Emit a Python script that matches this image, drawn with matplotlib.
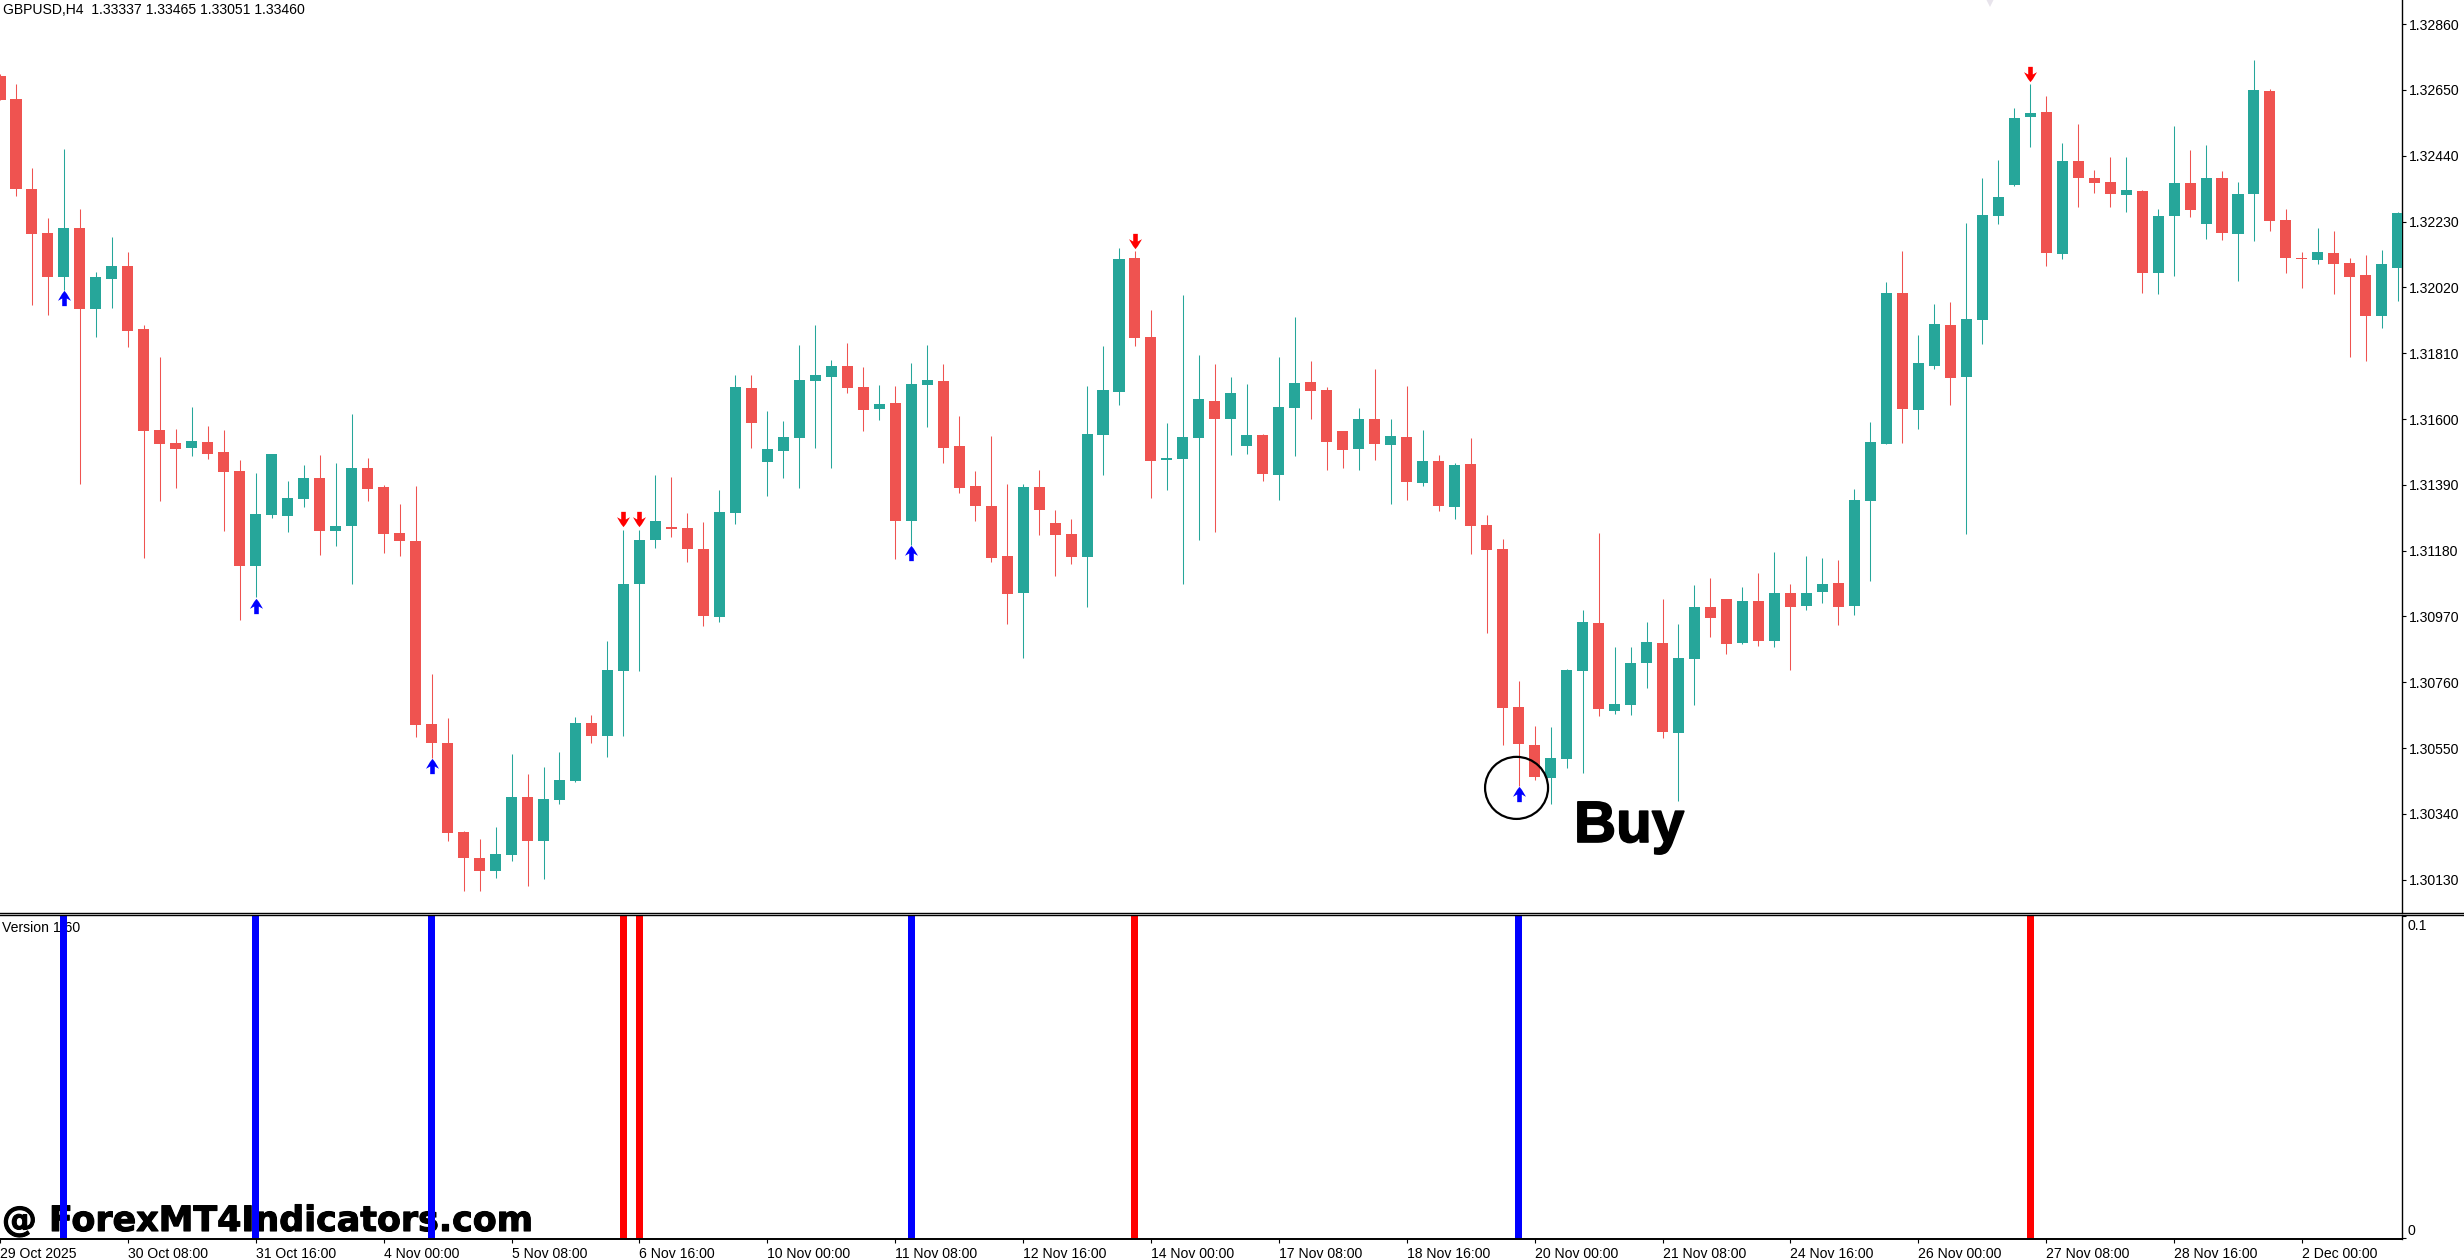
import matplotlib
matplotlib.use("Agg")
import matplotlib.pyplot as plt
import numpy as np
from matplotlib.patches import Ellipse
from matplotlib.path import Path
import matplotlib.patheffects as pe

# GBPUSD H4 candles, prices in points (price * 100000)
opens = [132694,
    132621,132334,132194,132053,132209,131951,132047,132088,131887,131565,
    131523,131507,131527,131495,131434,131131,131294,131290,131345,131412,
    131243,131259,131444,131383,131236,131211,130627,130566,130282,130199,
    130158,130209,130394,130253,130384,130445,130630,130588,130796,131073,
    131214,131255,131252,131185,130968,131300,131699,131463,131498,131539,
    131721,131734,131769,131702,131632,131651,131274,131708,131721,131514,
    131386,131322,131163,131045,131383,131268,131233,131160,131549,131686,
    132114,131862,131469,131472,131539,131657,131600,131514,131549,131421,
    131635,131718,131693,131562,131504,131600,131517,131543,131396,131466,
    131319,131456,131262,131185,130681,130560,130454,130515,130796,130949,
    130668,130687,130821,130885,130598,130834,131000,131026,130885,131019,
    130892,131045,131003,131048,131077,131003,131338,131520,132002,131629,
    131769,131900,131734,131916,132248,132347,132564,132580,132126,132423,
    132369,132356,132315,132328,132066,132248,132353,132222,132369,132190,
    132318,132647,132235,132114,132107,132130,132098,132059,131929,132082]
highs = [132701,
    132669,132401,132241,132462,132270,132069,132181,132133,131900,131798,
    131568,131638,131578,131565,131469,131428,131488,131402,131453,131485,
    131460,131616,131476,131389,131329,131386,130786,130646,130285,130260,
    130298,130531,130467,130489,130537,130649,130655,130892,131246,131246,
    131421,131415,131300,131271,131373,131740,131740,131625,131594,131836,
    131900,131788,131842,131766,131708,131705,131779,131836,131775,131610,
    131434,131546,131393,131393,131437,131310,131281,131705,131833,132146,
    132136,131948,131587,131996,131804,131775,131734,131712,131552,131798,
    131925,131785,131702,131562,131635,131760,131600,131705,131565,131485,
    131460,131539,131294,131217,130764,130620,130617,130802,130990,131236,
    130872,130872,130952,131026,130946,131070,131093,131026,131064,131109,
    131176,131073,131163,131156,131150,131377,131590,132037,132136,131868,
    131967,131973,132225,132369,132426,132592,132669,132631,132481,132541,
    132395,132436,132436,132331,132270,132535,132458,132474,132391,132356,
    132746,132653,132270,132133,132209,132200,132114,132123,132139,132261]
lows = [132618,
    132312,131964,131932,132012,131393,131862,131954,131830,131156,131338,
    131380,131482,131472,131243,130959,131032,131284,131239,131319,131166,
    131195,131073,131338,131172,131163,130585,130518,130253,130094,130094,
    130135,130190,130110,130132,130371,130442,130566,130521,130588,130796,
    131188,131223,131144,130939,130952,131265,131507,131354,131412,131380,
    131507,131444,131683,131562,131597,131153,131198,131574,131460,131364,
    131274,131144,130946,130837,131230,131099,131137,131000,131421,131645,
    131833,131348,131373,131073,131214,131239,131485,131488,131402,131341,
    131482,131600,131437,131444,131437,131469,131329,131341,131386,131306,
    131281,131169,130917,130560,130429,130448,130371,130486,130470,130652,
    130659,130655,130742,130582,130381,130687,130904,130850,130882,130876,
    130872,130799,130990,131013,130943,130975,131083,131520,131523,131568,
    131760,131645,131233,131839,132222,132343,132468,132088,132111,132276,
    132321,132276,132261,132002,131999,132056,132245,132174,132171,132040,
    132168,132200,132066,132018,132095,131999,131798,131785,131890,131976]
closes = [132618,
    132334,132190,132053,132209,131951,132053,132088,131881,131562,131520,
    131504,131530,131488,131431,131131,131297,131488,131348,131412,131243,
    131259,131444,131377,131233,131211,130624,130566,130279,130199,130158,
    130212,130394,130253,130387,130448,130630,130588,130799,131073,131214,
    131274,131249,131185,130971,131303,131702,131587,131504,131543,131724,
    131740,131769,131699,131629,131648,131274,131712,131724,131507,131380,
    131322,131156,131042,131383,131310,131230,131160,131552,131693,132111,
    131858,131466,131476,131543,131664,131600,131683,131549,131424,131638,
    131715,131689,131527,131501,131600,131520,131546,131399,131466,131322,
    131453,131259,131182,130678,130563,130458,130518,130799,130952,130675,
    130691,130821,130888,130601,130837,131000,130965,130882,131019,130892,
    131045,131000,131045,131073,131000,131341,131527,132002,131632,131779,
    131903,131731,131919,132251,132308,132560,132576,132130,132423,132369,
    132353,132318,132331,132066,132248,132353,132267,132369,132194,132318,
    132650,132232,132114,132111,132133,132095,132053,131929,132095,132257]

# bars (0 = the cut-off candle at the left edge) that carry a signal
buy_bars = [4, 16, 27, 57, 95]
buy_prices = [131986, 131003, 130493, 131172, 130403]
sell_bars = [39, 40, 71, 127]
sell_prices = [131281, 131281, 132168, 132701]
signal_level = 0.1

price_ticks = [1.32860, 1.32650, 1.32440, 1.32230, 1.32020, 1.31810, 1.31600,
               1.31390, 1.31180, 1.30970, 1.30760, 1.30550, 1.30340, 1.30130]
time_labels = ["29 Oct 2025", "30 Oct 08:00", "31 Oct 16:00", "4 Nov 00:00", "5 Nov 08:00",
               "6 Nov 16:00", "10 Nov 00:00", "11 Nov 08:00", "12 Nov 16:00", "14 Nov 00:00",
               "17 Nov 08:00", "18 Nov 16:00", "20 Nov 00:00", "21 Nov 08:00", "24 Nov 16:00",
               "26 Nov 00:00", "27 Nov 08:00", "28 Nov 16:00", "2 Dec 00:00"]
time_step = 8

UP = "#26a69a"
DOWN = "#ef5350"
W, H = 2464, 1260
LABEL_SIZE = 10.1


def arrow_marker(up=True):
    # same shape as the terminal's signal arrow, tip up or down
    verts = [(0, 1), (0.32, 0.6), (0.85, -0.3), (0.3, 0.0), (0.3, -1),
             (-0.3, -1), (-0.3, 0.0), (-0.85, -0.3), (-0.32, 0.6), (0, 1)]
    if not up:
        verts = [(x, -y) for x, y in verts]
    return Path(verts, closed=True)


def px_axes(left, top, right, bottom):
    return [left / W, 1 - bottom / H, (right - left) / W, (bottom - top) / H]


plt.rcParams["font.family"] = ["Liberation Sans", "DejaVu Sans"]
fig = plt.figure(figsize=(W / 100, H / 100), dpi=100, facecolor="white")
ax = fig.add_axes(px_axes(0, 0, 2402, 912))
sub = fig.add_axes(px_axes(0, 915, 2402, 1239), sharex=ax)

o = np.array(opens) / 1e5
h = np.array(highs) / 1e5
l = np.array(lows) / 1e5
c = np.array(closes) / 1e5
bars = np.arange(len(o))
colors = [UP if cl >= op else DOWN for op, cl in zip(o, c)]

# candles
ax.vlines(bars, l, h, colors=colors, linewidth=0.75, zorder=2)
ax.bar(bars, np.abs(c - o), bottom=np.minimum(o, c), width=0.69, color=colors, linewidth=0, zorder=3)

# signal arrows
ax.plot(buy_bars, np.array(buy_prices) / 1e5, ls="", marker=arrow_marker(True), ms=11, color="#0000ff", mew=0, zorder=4)
ax.plot(sell_bars, np.array(sell_prices) / 1e5, ls="", marker=arrow_marker(False), ms=11, color="#ff0000", mew=0, zorder=4)

# hand drawn circle round the buy signal
ax.add_patch(Ellipse((94.87, 1.30423), 3.94, 0.00198, fill=False, ec="black", lw=1.6, zorder=5))
# faint mark cut off by the top edge
ax.plot([124.5], [1.32934], ls="", marker="v", ms=9, color="#e8e4ec", mew=0, zorder=1)

ax.set_xlim(0.15, 150.26)
ax.set_ylim(1.30027, 1.32937)
ax.set_yticks(price_ticks)
ax.set_yticklabels([f"{t:.5f}" for t in price_ticks])
ax.yaxis.tick_right()
ax.tick_params(axis="y", length=2.6, width=0.8, pad=2.4, labelsize=LABEL_SIZE)
ax.tick_params(axis="x", bottom=False, labelbottom=False)
for s in ("top", "left", "bottom"):
    ax.spines[s].set_visible(False)
ax.spines["right"].set_linewidth(1.0)

# indicator window
sub.bar(buy_bars, [signal_level] * len(buy_bars), width=0.44, color="#0000ff", linewidth=0, zorder=3)
sub.bar(sell_bars, [signal_level] * len(sell_bars), width=0.44, color="#ff0000", linewidth=0, zorder=3)
sub.set_ylim(-0.00031, 0.10031)
sub.set_yticks([0, signal_level])
sub.set_yticklabels([])
sub.yaxis.tick_right()
sub.tick_params(axis="y", length=2.6, width=0.8)
# the terminal keeps these two labels just inside the window
sub.annotate("0.1", xy=(1, signal_level), xycoords=("axes fraction", "data"), xytext=(5, -10), textcoords="offset pixels",
             fontsize=LABEL_SIZE, va="center", ha="left", annotation_clip=False)
sub.annotate("0", xy=(1, 0), xycoords=("axes fraction", "data"), xytext=(5, 7), textcoords="offset pixels",
             fontsize=LABEL_SIZE, va="center", ha="left", annotation_clip=False)
sub.set_xticks(np.arange(len(time_labels)) * time_step)
sub.set_xticklabels(time_labels, ha="left")
sub.tick_params(axis="x", length=2.6, width=0.8, pad=3, labelsize=LABEL_SIZE)
for s in ("top", "left"):
    sub.spines[s].set_visible(False)
sub.spines["right"].set_linewidth(1.0)
sub.spines["bottom"].set_linewidth(1.4)
sub.text(2 / 2402, 1 - 13 / 324, "Version 1.60", transform=sub.transAxes, fontsize=LABEL_SIZE, va="center", ha="left", zorder=1)
# watermark sits under the indicator bars
sub.text(2 / W, 1 - 1231 / H, "@ ForexMT4Indicators.com", transform=fig.transFigure, family="DejaVu Sans",
         fontsize=25.1, fontweight="bold", va="baseline", ha="left", zorder=1, clip_on=False,
         path_effects=[pe.withStroke(linewidth=0.8, foreground="black")])

# double line between the two windows
for y in (912.5, 914.5):
    fig.add_artist(plt.Line2D([0, 1], [1 - y / H, 1 - y / H], color="black", lw=1.0))

fig.text(3 / W, 1 - 10 / H, "GBPUSD,H4  1.33337 1.33465 1.33051 1.33460", fontsize=LABEL_SIZE, va="center", ha="left")
fig.text(1574 / W, 1 - 842 / H, "Buy", fontsize=42, fontweight="bold", va="baseline", ha="left",
         path_effects=[pe.withStroke(linewidth=1.2, foreground="black")])

fig.savefig("out.png", dpi=100)
